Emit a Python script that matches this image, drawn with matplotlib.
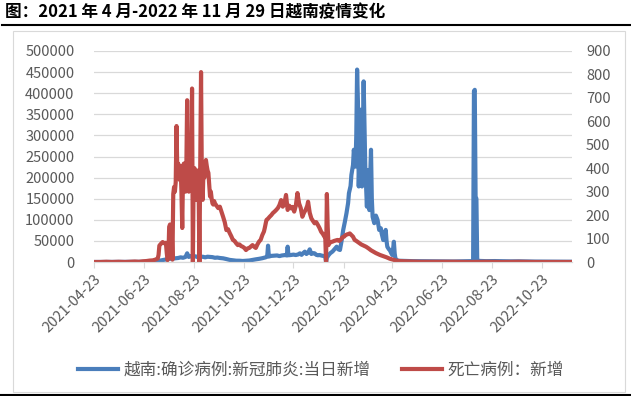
import numpy as np
import pandas as pd
import matplotlib
matplotlib.use("Agg")
import matplotlib.pyplot as plt
from matplotlib.lines import Line2D
from matplotlib.patches import Rectangle

plt.rcParams["font.family"] = ["Noto Sans CJK SC", "DejaVu Sans"]

TITLE = "图：2021 年 4 月-2022 年 11 月 29 日越南疫情变化"
CASE_LABEL = "越南:确诊病例:新冠肺炎:当日新增"
DEATH_LABEL = "死亡病例：新增"

START = "2021-04-23"
END = "2022-11-29"
TICK_DATES = ["2021-04-23", "2021-06-23", "2021-08-23", "2021-10-23", "2021-12-23",
              "2022-02-23", "2022-04-23", "2022-06-23", "2022-08-23", "2022-10-23"]

# daily new cases (left axis); day = days since START
case_day = [0, 15, 25, 35, 45, 55, 62, 68, 72, 76, 80, 84, 88, 92, 96, 100, 103, 106, 109, 112,
            114, 116, 118, 121, 124, 127, 130, 133, 136, 139, 142, 145, 148, 151, 154, 158, 162,
            166, 170, 174, 178, 182, 186, 190, 194, 198, 202, 206, 210, 212, 213, 214, 217, 220,
            224, 227, 230, 234, 236, 237, 238, 241, 244, 247, 250, 252, 254, 256, 258, 260, 262,
            264, 266, 268, 270, 272, 274, 276, 279, 282, 283, 284, 285, 287, 289, 292, 295, 297,
            299, 301, 303, 305, 307, 309, 311, 312, 314, 315, 317, 318, 320, 321, 322, 323, 324,
            325, 326, 327, 328, 329, 330, 331, 332, 333, 334, 335, 336, 337, 338, 339, 340, 341,
            343, 345, 347, 349, 351, 352, 354, 355, 357, 358, 359, 361, 362, 364, 365, 366, 367,
            368, 369, 371, 373, 380, 390, 400, 410, 420, 430, 440, 450, 458, 462, 464, 465, 466,
            467, 468, 469, 472, 480, 490, 500, 510, 520, 530, 540, 550, 560, 570, 585]
case_val = [20, 50, 100, 200, 300, 250, 400, 500, 1000, 2000, 3000, 4500, 6000, 7500, 8000, 9000,
            9500, 11000, 10000, 12000, 20600, 12000, 14000, 12500, 13500, 11500, 12000, 12500,
            11000, 12500, 12000, 11500, 10000, 10500, 9500, 8700, 7000, 5000, 4000, 3100, 3000,
            2400, 3000, 3500, 5000, 6300, 7500, 9000, 11000, 13000, 38700, 13000, 14500, 15000,
            15500, 14000, 15500, 16500, 15500, 36300, 16000, 16600, 17500, 16500, 18000, 20600,
            17000, 21000, 24500, 19000, 22000, 30000, 19000, 21000, 20600, 17000, 16000, 16600,
            15000, 14000, 13500, 0, 10000, 16000, 20600, 25000, 32000, 36300, 30000, 28500, 50000,
            76000, 95000, 115600, 140000, 163000, 180000, 206000, 230000, 266000, 226000, 300000,
            456000, 380000, 179000, 250000, 361000, 240000, 179000, 300000, 428000, 330000,
            226000, 180000, 131000, 218000, 160000, 123000, 200000, 266000, 150000, 107000, 92000,
            110000, 100000, 76000, 80000, 68000, 52000, 60000, 76000, 50000, 36000, 30000, 28500,
            20000, 16600, 30000, 48000, 20000, 7000, 4000, 3000, 2500, 2000, 1800, 1500, 1200,
            1000, 1200, 1500, 1800, 2000, 2500, 405000, 408000, 155000, 150000, 3000, 2500, 2000,
            2200, 1800, 1500, 1600, 1200, 1000, 900, 800, 700, 600]

# daily new deaths (right axis)
death_day = [0, 8, 15, 22, 30, 38, 45, 50, 55, 60, 64, 68, 72, 75, 78, 79, 80, 82, 84, 86, 88, 89,
             90, 91, 92, 93, 94, 95, 96, 97, 98, 99, 100, 101, 102, 103, 104, 105, 106, 107, 108,
             109, 110, 111, 112, 113, 114, 115, 116, 117, 118, 119, 120, 121, 122, 123, 124, 125,
             126, 127, 128, 129, 130, 131, 132, 133, 134, 135, 136, 137, 138, 139, 140, 141, 142,
             143, 144, 145, 146, 147, 148, 150, 152, 154, 156, 158, 160, 162, 164, 166, 168, 170,
             172, 174, 176, 178, 180, 182, 184, 186, 188, 190, 192, 194, 196, 198, 200, 202, 204,
             206, 208, 209, 211, 213, 215, 217, 219, 221, 223, 225, 227, 229, 231, 233, 235, 237,
             239, 241, 243, 245, 247, 249, 251, 253, 255, 257, 259, 261, 262, 264, 266, 268, 270,
             272, 274, 276, 278, 280, 282, 283, 284, 285, 286, 287, 288, 290, 292, 294, 296, 298,
             300, 302, 304, 306, 308, 310, 312, 313, 315, 317, 319, 321, 323, 325, 327, 330, 333,
             336, 339, 342, 345, 348, 350, 354, 358, 362, 366, 370, 374, 380, 390, 400, 420, 440,
             460, 480, 500, 520, 540, 560, 585]
death_val = [0, 0, 1, 0, 1, 0, 1, 2, 1, 3, 4, 6, 7, 10, 15, 30, 70, 78, 85, 80, 82, 40, 8, 20,
             150, 160, 158, 150, 10, 290, 320, 300, 340, 580, 380, 420, 390, 350, 410, 300, 145,
             390, 420, 330, 300, 400, 690, 360, 300, 390, 420, 330, 740, 0, 380, 400, 330, 265,
             350, 390, 330, 0, 400, 810, 350, 265, 390, 360, 400, 435, 410, 390, 380, 330, 280,
             300, 270, 250, 245, 260, 250, 240, 230, 236, 215, 193, 170, 136, 140, 124, 110, 94,
             90, 80, 72, 75, 68, 65, 60, 51, 58, 60, 66, 72, 65, 60, 75, 87, 95, 115, 130, 145,
             179, 185, 193, 200, 209, 215, 222, 230, 243, 264, 236, 250, 286, 222, 240, 229, 235,
             215, 240, 294, 250, 230, 193, 210, 222, 240, 257, 210, 186, 175, 165, 170, 158, 145,
             129, 120, 108, 110, 0, 290, 150, 72, 80, 85, 87, 90, 92, 94, 90, 95, 105, 108, 115,
             118, 120, 122, 115, 108, 94, 90, 85, 80, 75, 70, 65, 58, 50, 44, 38, 33, 30, 25, 20,
             14, 10, 6, 4, 3, 2, 1, 1, 1, 0, 1, 0, 1, 0, 0, 0]

BLUE = "#4a7ebb"
RED = "#be4b48"
GRID = "#d9d9d9"
TXT = "#595959"

start = pd.Timestamp(START)
case_dates = start + pd.to_timedelta(case_day, unit="D")
death_dates = start + pd.to_timedelta(death_day, unit="D")

W, H = 631, 396
fig = plt.figure(figsize=(W / 100, H / 100), dpi=100)

# frame and title rules
fig.add_artist(Rectangle((13 / W, 1 - 392 / H), 612 / W, 361 / H, transform=fig.transFigure,
                         fill=False, edgecolor=GRID, linewidth=0.8))
fig.add_artist(Line2D([2 / W, 1], [1 - 25 / H] * 2, color="black", linewidth=1.5))
fig.add_artist(Line2D([0, 1], [1 - 394.5 / H] * 2, color="black", linewidth=1.5))
fig.text(5 / W, 1 - 12 / H, TITLE, fontsize=12, fontweight="bold", va="center", ha="left")

ax = fig.add_axes([94 / W, 1 - 262 / H, 478 / W, 211 / H])
ax2 = ax.twinx()

l1, = ax.plot(case_dates, case_val, color=BLUE, linewidth=3, solid_joinstyle="round")
l2, = ax2.plot(death_dates, death_val, color=RED, linewidth=3, solid_joinstyle="round")

ax.set_xlim(start, pd.Timestamp(END))
ax.set_ylim(0, 500000)
ax2.set_ylim(0, 900)
ax.set_yticks(np.arange(0, 500001, 50000))
ax2.set_yticks(np.arange(0, 901, 100))
ax.set_yticklabels([f"{int(v)}" for v in np.arange(0, 500001, 50000)])

ax.grid(axis="y", color=GRID, linewidth=0.9)
ax.set_axisbelow(True)
for a in (ax, ax2):
    for s in ("top", "left", "right"):
        a.spines[s].set_visible(False)
    a.spines["bottom"].set_color(GRID)

ax.set_xticks(pd.to_datetime(TICK_DATES))
ax.set_xticklabels(TICK_DATES, rotation=45, ha="right", rotation_mode="anchor")
ax.tick_params(axis="x", colors=GRID, labelcolor=TXT, labelsize=10.5, length=4, pad=3)
ax.tick_params(axis="y", length=0, labelcolor=TXT, labelsize=10.5, pad=14)
ax2.tick_params(axis="y", length=0, labelcolor=TXT, labelsize=10.5, pad=10)

leg = fig.legend([l1, l2], [CASE_LABEL, DEATH_LABEL], loc="center",
                 bbox_to_anchor=(321 / W, 1 - 370 / H), ncol=2, frameon=False,
                 fontsize=12, handlelength=2.4, handletextpad=0.3, columnspacing=1.9)
for t in leg.get_texts():
    t.set_color(TXT)
for h in leg.get_lines():
    h.set_linewidth(3)

fig.savefig("out.png", dpi=100)
